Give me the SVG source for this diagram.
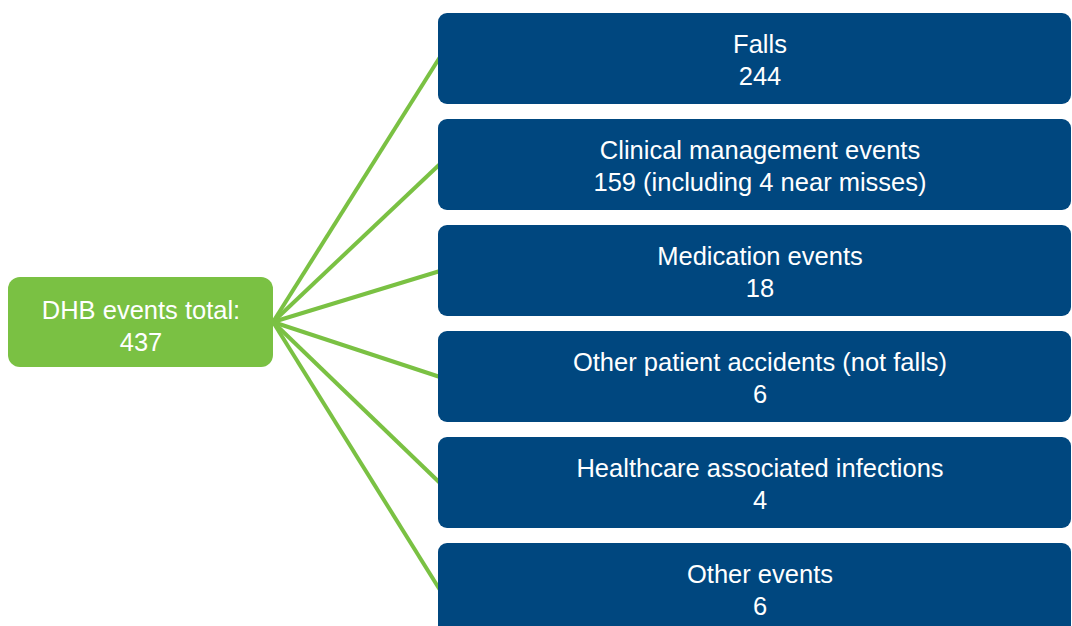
<svg xmlns="http://www.w3.org/2000/svg" width="1072" height="626" viewBox="0 0 1072 626">
<style>
.blue{fill:#00477f}
.green{fill:#7ac143}
.t{font-family:"Liberation Sans",Arial,sans-serif;font-size:25.5px;fill:#ffffff;text-anchor:middle}
.c{stroke:#7ac143;stroke-width:4;fill:none}
</style>
<rect width="1072" height="626" fill="#ffffff"/>
<g id="connectors">
<line class="c" x1="273" y1="322" x2="440" y2="57"/>
<line class="c" x1="273" y1="322" x2="440" y2="164"/>
<line class="c" x1="273" y1="322" x2="440" y2="271"/>
<line class="c" x1="273" y1="322" x2="440" y2="377"/>
<line class="c" x1="273" y1="322" x2="440" y2="483"/>
<line class="c" x1="273" y1="322" x2="440" y2="590"/>
</g>
<g id="root">
<rect class="green" x="8" y="277" width="265" height="90" rx="12"/>
<text class="t" x="141" y="319">DHB events total:</text>
<text class="t" x="141" y="351">437</text>
</g>
<g id="falls">
<rect class="blue" x="438" y="13" width="633" height="91" rx="9"/>
<text class="t" x="760" y="53">Falls</text>
<text class="t" x="760" y="85">244</text>
</g>
<g id="clinical">
<rect class="blue" x="438" y="119" width="633" height="91" rx="9"/>
<text class="t" x="760" y="159">Clinical management events</text>
<text class="t" x="760" y="191">159 (including 4 near misses)</text>
</g>
<g id="medication">
<rect class="blue" x="438" y="225" width="633" height="91" rx="9"/>
<text class="t" x="760" y="265">Medication events</text>
<text class="t" x="760" y="297">18</text>
</g>
<g id="accidents">
<rect class="blue" x="438" y="331" width="633" height="91" rx="9"/>
<text class="t" x="760" y="371">Other patient accidents (not falls)</text>
<text class="t" x="760" y="403">6</text>
</g>
<g id="infections">
<rect class="blue" x="438" y="437" width="633" height="91" rx="9"/>
<text class="t" x="760" y="477">Healthcare associated infections</text>
<text class="t" x="760" y="509">4</text>
</g>
<g id="other">
<rect class="blue" x="438" y="543" width="633" height="91" rx="9"/>
<text class="t" x="760" y="583">Other events</text>
<text class="t" x="760" y="615">6</text>
</g>
</svg>
